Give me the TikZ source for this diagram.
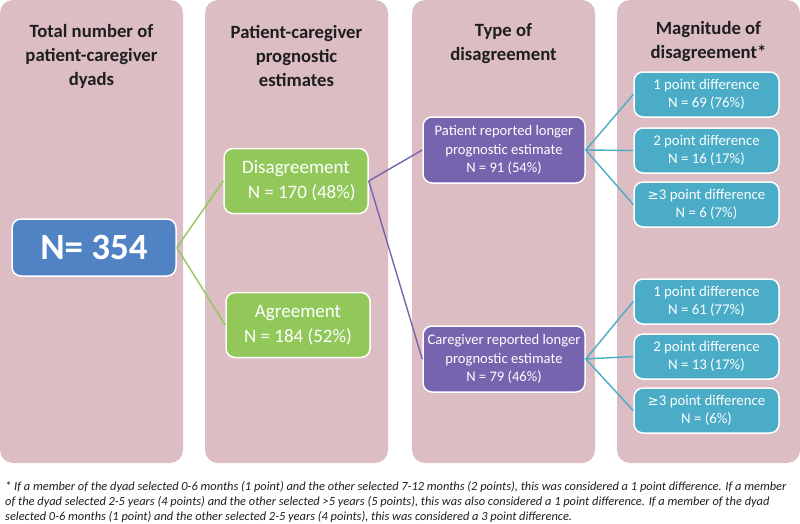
\documentclass[tikz,border=0pt]{standalone}
\usepackage{fontspec}
\setmainfont{Carlito}
\newfontfamily\symfont{DejaVu Sans}
\definecolor{colbg}{HTML}{DBBDC3}
\definecolor{bluebox}{HTML}{5182C4}
\definecolor{greenbox}{HTML}{92C85A}
\definecolor{purplebox}{HTML}{7764AE}
\definecolor{tealbox}{HTML}{4AACC6}
\definecolor{headtxt}{HTML}{1E1E1E}
\tikzset{
  colrect/.style={fill=colbg, draw=none, rounded corners=13pt},
  header/.style={align=center, text=headtxt, font=\bfseries\fontsize{18.7}{24}\selectfont, inner sep=0pt},
  box/.style={draw=white, line width=1.5pt, rounded corners=9pt, text=white, align=center, inner sep=0pt},
  bluestyle/.style={box, fill=bluebox, minimum width=164pt, minimum height=57pt, font=\bfseries\fontsize{37}{40}\selectfont},
  greenstyle/.style={box, fill=greenbox, minimum width=144pt, minimum height=65pt, font=\fontsize{19}{25}\selectfont},
  purplestyle/.style={box, fill=purplebox, minimum width=162pt, minimum height=66pt, font=\fontsize{14.6}{18.5}\selectfont},
  tealstyle/.style={box, fill=tealbox, minimum width=145pt, minimum height=45pt, font=\fontsize{14.8}{18}\selectfont},
  gline/.style={draw=greenbox, line width=1.4pt},
  pline/.style={draw=purplebox, line width=1.4pt},
  tline/.style={draw=tealbox, line width=1.4pt},
}
\begin{document}
\begin{tikzpicture}[x=1pt,y=-1pt]
\useasboundingbox (0,0) rectangle (800,523);
% columns
\fill[colrect] (0,0) rectangle (183,463);
\fill[colrect] (205,0) rectangle (388,463);
\fill[colrect] (412,0) rectangle (595,463);
\fill[colrect] (617,0) rectangle (800,463);
% headers
\node[header] (h1) at (91.5,56) {Total number of\\patient-caregiver\\dyads};
\node[header] (h2) at (296.5,56) {Patient-caregiver\\prognostic\\estimates};
\node[header] (h3) at (503.5,44) {Type of\\disagreement};
\node[header] (h4) at (708.5,42) {Magnitude of\\disagreement*};
% boxes
\node[bluestyle] (tot) at (94,247.5) {N= 354};
\node[greenstyle] (dis) at (296,181) {Disagreement\\\hspace*{0.6em}N = 170 (48\%)};
\node[greenstyle] (agr) at (298,325) {Agreement\\N = 184 (52\%)};
\node[purplestyle] (pat) at (504,150) {Patient reported longer\\prognostic estimate\\N = 91 (54\%)};
\node[purplestyle] (care) at (504,359) {Caregiver reported longer\\prognostic estimate\\N = 79 (46\%)};
\node[tealstyle] (t1) at (706.5,94.5) {1 point difference\\N = 69 (76\%)};
\node[tealstyle] (t2) at (706.5,150.5) {2 point difference\\N = 16 (17\%)};
\node[tealstyle] (t3) at (706.5,204.5) {{\symfont\fontsize{13.4}{18}\selectfont ≥}3 point difference\\N = 6 (7\%)};
\node[tealstyle] (b1) at (706.5,301.5) {1 point difference\\N = 61 (77\%)};
\node[tealstyle] (b2) at (706.5,356.5) {2 point difference\\N = 13 (17\%)};
\node[tealstyle] (b3) at (706.5,410.5) {{\symfont\fontsize{13.4}{18}\selectfont ≥}3 point difference\\N = (6\%)};
% connectors
\draw[gline] (tot.east) -- (dis.west);
\draw[gline] (tot.east) -- (agr.west);
\draw[pline] (dis.east) -- (pat.west);
\draw[pline] (dis.east) -- (care.west);
\draw[tline] (pat.east) -- (t1.west);
\draw[tline] (pat.east) -- (t2.west);
\draw[tline] (pat.east) -- (t3.west);
\draw[tline] (care.east) -- (b1.west);
\draw[tline] (care.east) -- (b2.west);
\draw[tline] (care.east) -- (b3.west);
% footnote
\node[anchor=west, align=left, inner sep=0pt, text=headtxt, font=\itshape\fontsize{12.4}{15}\selectfont] (fn) at (5,502)
{* If a member of the dyad selected 0-6 months (1 point) and the other selected 7-12 months (2 points), this was considered a 1 point difference. If a member\\
of the dyad selected 2-5 years (4 points) and the other selected >5 years (5 points), this was also considered a 1 point difference. If a member of the dyad\\
selected 0-6 months (1 point) and the other selected 2-5 years (4 points), this was considered a 3 point difference.};
\end{tikzpicture}
\end{document}
